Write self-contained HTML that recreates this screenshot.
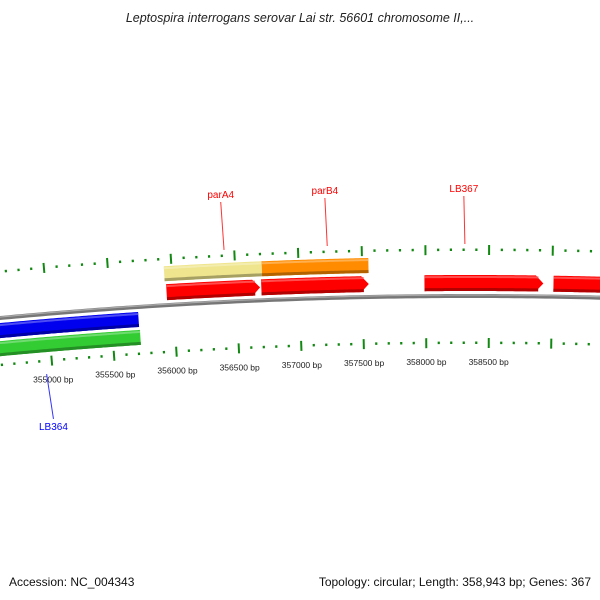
<!DOCTYPE html>
<html><head><meta charset="utf-8"><style>
body{margin:0;background:#fff;}
svg{display:block;font-family:"Liberation Sans",sans-serif;}
</style></head><body>
<svg id="map" width="600" height="600" viewBox="0 0 600 600">
<text x="300" y="22" text-anchor="middle" font-size="12.5" font-style="italic" fill="#222">Leptospira interrogans serovar Lai str. 56601 chromosome II,...</text>
<g id="ticks"></g>
<g id="genes"></g>
<g id="labels"></g>
<text x="9" y="586" font-size="12" fill="#111">Accession: NC_004343</text>
<text x="591" y="586" text-anchor="end" font-size="12" fill="#111">Topology: circular; Length: 358,943 bp; Genes: 367</text>
</svg>
<script>
const geneNames = ["red-1","red-2","red-3","red-4","yellow","orange","blue","green"];
const geneStarts = [355950,356700,357990,359010,355940,356710,354560,354560];
const geneEnds = [356690,357550,358930,359600,356710,357550,355715,355720];
const geneColors = ["#ff0000","#ff0000","#ff0000","#ff0000","#efe58e","#ff8c00","#0000ee","#33cc33"];
const geneRings = ["r1","r1","r1","r1","r2","r2","b1","b2"];
const geneArrows = [true,true,true,false,false,false,false,false];
const tickLabels = [355000,355500,356000,356500,357000,357500,358000,358500];
const labelNames = ["parA4","parB4","LB367","LB364"];
const labelPositions = [356420,357230,358310,354950];
const labelColors = ["#ff0000","#ff0000","#ff0000","#0000ff"];

const CX=470, CY=5316, RI=4973, BPC=358350;
const ringR={r2:[5044,5059],r1:[5025,5041],b1:[5000,5015],b2:[4982,4997]};
const NS="http://www.w3.org/2000/svg";
function ang(bp){return (bp-BPC)*0.125/RI;}
function pt(bp,r){const a=ang(bp);return [CX+r*Math.sin(a),CY-r*Math.cos(a)];}
function mk(tag,parent,attrs){const e=document.createElementNS(NS,tag);for(const k in attrs)e.setAttribute(k,attrs[k]);parent.appendChild(e);return e;}

// backbone
const gG=document.getElementById('genes');
let d="";for(let b=354000;b<=360000;b+=50){const p=pt(b,5020);d+=(d?"L":"M")+p[0].toFixed(2)+","+p[1].toFixed(2);}
const bb=mk('path',gG,{d:d,fill:'none',stroke:'#777','stroke-width':4});


const bb2=mk('path',gG,{d:d,fill:'none',stroke:'#aaa','stroke-width':1.2,transform:'translate(0,-1)'});



function shade(c,f){const n=parseInt(c.slice(1),16);let r=n>>16,g=(n>>8)&255,b=n&255;
 const m=v=>Math.max(0,Math.min(255,Math.round(f>0?v+(255-v)*f:v*(1+f))));return `rgb(${m(r)},${m(g)},${m(b)})`;}
function band(s,e,r0,r1,arrow){const pts=[];const ah=arrow?Math.min(60,(e-s)*0.3):0;const ee=e-ah;
 for(let b=s;b<=ee;b+=20)pts.push(pt(b,r1));pts.push(pt(ee,r1));
 if(arrow)pts.push(pt(e,(r0+r1)/2));
 pts.push(pt(ee,r0));for(let b=ee;b>=s;b-=20)pts.push(pt(b,r0));pts.push(pt(s,r0));
 return pts.map(p=>p[0].toFixed(2)+","+p[1].toFixed(2)).join(" ");}
for(let i=0;i<geneNames.length;i++){
 const [r0,r1]=ringR[geneRings[i]];
 const g=mk('g',gG,{});
 
 
 mk('polygon',g,{points:band(geneStarts[i],geneEnds[i],r0,r1,geneArrows[i]),fill:geneColors[i]});
 mk('polygon',g,{points:band(geneStarts[i],geneEnds[i]-(geneArrows[i]?40:0),r0,r0+3,false),fill:shade(geneColors[i],-0.3)});
 mk('polygon',g,{points:band(geneStarts[i],geneEnds[i]-(geneArrows[i]?40:0),r1-3,r1-1,false),fill:shade(geneColors[i],0.3)});
}

// ticks
const tG=document.getElementById('ticks');
for(let b=354300;b<=359700;b+=100){
 const major=b%500===0;
 [[5066,major?[5061,5071]:[5065,5067.5]],[4973,major?[4968,4978]:[4972,4974.5]]].forEach(([rr,ex])=>{
  const a=pt(b,ex[0]),c=pt(b,ex[1]);
  const l=mk('line',tG,{x1:a[0],y1:a[1],x2:c[0],y2:c[1],stroke:'#118811','stroke-width':major?2:2.2});
  
  
 });
}
for(const v of tickLabels){const p=pt(v,4955);
 const t=mk('text',tG,{x:p[0],y:p[1]+4,'text-anchor':'middle','font-size':8.5,fill:'#222'});
 t.textContent=v+" bp";
 
 }

// labels
const lG=document.getElementById('labels');
for(let i=0;i<labelNames.length;i++){
 const inner=labelColors[i]==="#0000ff";
 const a=pt(labelPositions[i],inner?4960:5072), c=pt(labelPositions[i],inner?4915:5120);
 const l=mk('line',lG,{x1:a[0],y1:a[1],x2:c[0]+(inner?3:-1),y2:c[1],stroke:labelColors[i],'stroke-width':1,opacity:0.8});
 
 
 const t=mk('text',lG,{x:c[0]+(inner?3:-1),y:inner?c[1]+11:c[1]-4,'text-anchor':'middle','font-size':10,fill:labelColors[i]});
 t.textContent=labelNames[i];
 
 
}
</script>
</body></html>
